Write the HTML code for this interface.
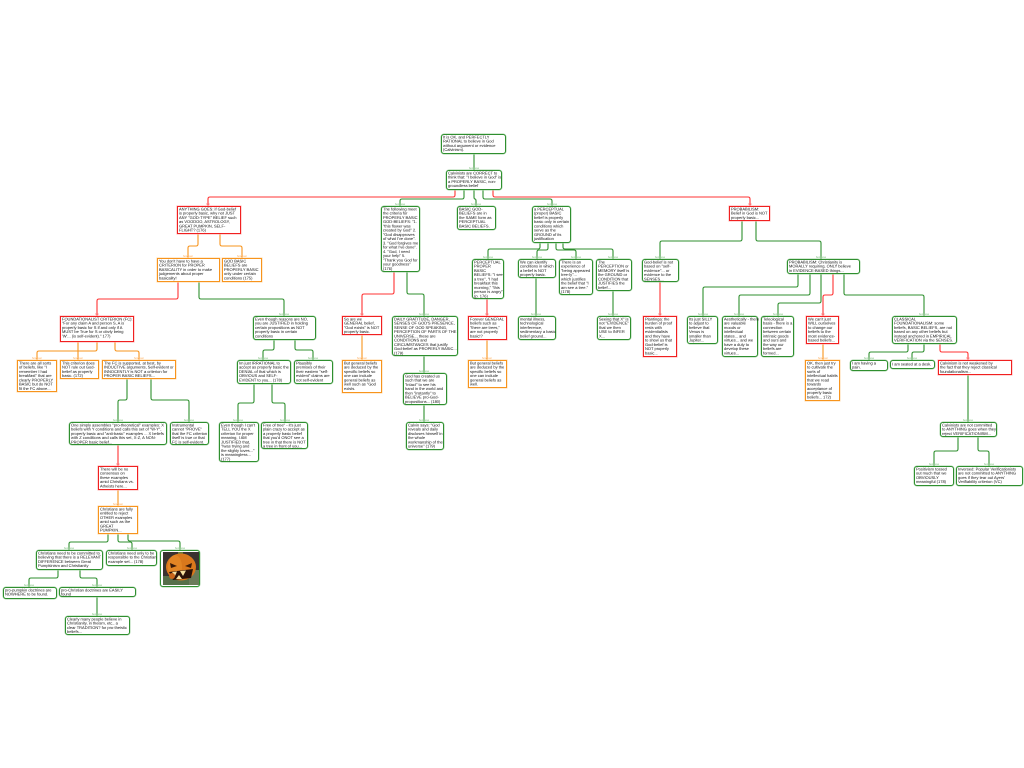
<!DOCTYPE html>
<html><head><meta charset="utf-8"><title>Diagram</title>
<style>
html,body{margin:0;padding:0;background:#fff;width:1024px;height:768px;overflow:hidden}
body{position:relative;font-family:"Liberation Sans",sans-serif}
svg{position:absolute;left:0;top:0}
.n{position:absolute;box-sizing:border-box;background:#fff;white-space:nowrap;padding:0 0 0 .5px}
.n p{margin:0;font-size:16px;line-height:17px;color:#111;transform:scale(.25);transform-origin:0 0;width:400px;height:10px;text-rendering:geometricPrecision}
.g{border:1px solid #2f8f2f;border-radius:3px;box-shadow:0 0 0 .5px #a8d4a8}
.r{border:1px solid #f02020;box-shadow:0 0 0 .5px #ffb0b0}
.o{border:1px solid #f7941d;box-shadow:0 0 0 .5px #ffd9a8}
.lg{fill:#7cbf7c}.lr{fill:#f77}.lo{fill:#fa5}
text{font-family:"Liberation Sans",sans-serif;font-size:2.7px;text-anchor:middle}
</style></head><body>
<svg width="1024" height="768" viewBox="0 0 1024 768">
<defs>
<marker id="mg" markerUnits="userSpaceOnUse" markerWidth="6" markerHeight="3" refX="3" refY="1.5" orient="0"><rect x=".5" y="1" width="5" height="1" fill="#2f8f2f"/></marker>
<marker id="mr" markerUnits="userSpaceOnUse" markerWidth="6" markerHeight="3" refX="3" refY="1.5" orient="0"><rect x=".5" y="1" width="5" height="1" fill="#f33"/></marker>
<marker id="mo" markerUnits="userSpaceOnUse" markerWidth="6" markerHeight="3" refX="3" refY="1.5" orient="0"><rect x=".5" y="1" width="5" height="1" fill="#f7941d"/></marker>
</defs>
<g fill="none" stroke="#2f8f2f" stroke-width="1.1" marker-start="url(#mg)" marker-end="url(#mg)">
<path d="M474 154V170"/>
<path d="M464 190V197Q464 199 462 199H402Q400 199 400 201V206"/>
<path d="M474 190V197Q474 199 475 199Q476 199 476 201V206"/>
<path d="M483 190V197Q483 199 485 199H550Q552 199 552 201V206"/>
<path d="M199 282V297Q199 299 201 299H282Q284 299 284 301V316"/>
<path d="M127 379V398Q127 400 125 400H120Q118 400 118 402V422"/>
<path d="M151 379V398Q151 400 153 400H187Q189 400 189 402V422"/>
<path d="M274 340V348Q274 350 272 350H265Q263 350 263 352V360"/>
<path d="M295 340V348Q295 350 297 350H311Q313 350 313 352V360"/>
<path d="M254 384V401Q254 403 252 403H240Q238 403 238 405V422"/>
<path d="M272 384V401Q272 403 274 403H283Q285 403 285 405V422"/>
<path d="M108 534V540Q108 542 106 542H71Q69 542 69 544V550"/>
<path d="M118 534V540Q118 542 120 542H130Q132 542 132 544V550"/>
<path d="M128 534V539Q128 541 130 541H178Q180 541 180 543V550"/>
<path d="M58 570V576Q58 578 56 578H31Q29 578 29 580V587"/>
<path d="M80 570V576Q80 578 82 578H95Q97 578 97 580V587"/>
<path d="M97 597V616"/>
<path d="M407 272V292Q407 294 409 294H422Q424 294 424 296V316"/>
<path d="M424 356V373"/>
<path d="M424 405V422"/>
<path d="M540 243V247Q540 249 538 249H490Q488 249 488 251V259"/>
<path d="M548 243V248Q548 250 546 250H539Q537 250 537 252V259"/>
<path d="M556 243V248Q556 250 558 250H574Q576 250 576 252V259"/>
<path d="M563 243V247Q563 249 565 249H611Q613 249 613 251V259"/>
<path d="M536 278V316"/>
<path d="M613 291V316"/>
<path d="M742 221V239Q742 241 740 241H662Q660 241 660 243V259"/>
<path d="M756 221V239Q756 241 758 241H819Q821 241 821 243V259"/>
<path d="M798 274V285Q798 287 796 287H705Q703 287 703 289V316"/>
<path d="M810 274V293Q810 295 808 295H741Q739 295 739 297V316"/>
<path d="M821 274V301Q821 303 819 303H780Q778 303 778 305V316"/>
<path d="M844 274V293Q844 295 846 295H922Q924 295 924 297V316"/>
<path d="M908 344V350Q908 352 906 352H871Q869 352 869 354V360"/>
<path d="M924 344V350Q924 352 922 352H914Q912 352 912 354V360"/>
<path d="M968 375V422"/>
<path d="M958 437V449Q958 451 956 451H936Q934 451 934 453V466"/>
<path d="M978 437V449Q978 451 980 451H987Q989 451 989 453V466"/>
</g>
<g fill="none" stroke="#f33" stroke-width="1.1" marker-start="url(#mr)" marker-end="url(#mr)">
<path d="M455 190V195Q455 197 453 197H210Q208 197 208 199V206"/>
<path d="M493 190V195Q493 197 495 197H748Q750 197 750 199V206"/>
<path d="M178 282V297Q178 299 176 299H99Q97 299 97 301V316"/>
<path d="M118 445V466"/>
<path d="M394 272V292Q394 294 392 294H364Q362 294 362 296V316"/>
<path d="M487 299V316"/>
<path d="M660 282V316"/>
<path d="M833 274V293Q833 295 831 295H825Q823 295 823 297V316"/>
<path d="M940 344V350Q940 352 942 352H966Q968 352 968 354V360"/>
</g>
<g fill="none" stroke="#f7941d" stroke-width="1.1" marker-start="url(#mo)" marker-end="url(#mo)">
<path d="M198 234V244Q198 246 196 246H190Q188 246 188 248V258"/>
<path d="M220 234V244Q220 246 222 246H240Q242 246 242 248V258"/>
<path d="M97 342V349Q97 351 95 351H39Q37 351 37 353V360"/>
<path d="M78 342V360"/>
<path d="M115 342V349Q115 351 117 351H137Q139 351 139 353V360"/>
<path d="M118 490V506"/>
<path d="M362 335V360"/>
<path d="M487 340V360"/>
<path d="M823 344V360"/>
</g>
<g>
<text class="lg" x="474" y="169">because</text><text class="lr" x="208" y="205">but</text><text class="lr" x="750" y="205">but</text>
<text class="lg" x="400" y="205">because</text><text class="lg" x="476" y="205">because</text><text class="lg" x="552" y="205">because</text>
<text class="lo" x="188" y="257">however</text><text class="lo" x="242" y="257">however</text><text class="lr" x="97" y="315">but</text><text class="lg" x="284" y="315">because</text>
<text class="lo" x="37" y="359">however</text><text class="lo" x="78" y="359">however</text><text class="lo" x="139" y="359">however</text>
<text class="lg" x="118" y="421">because</text><text class="lg" x="189" y="421">because</text><text class="lg" x="263" y="359">because</text><text class="lg" x="313" y="359">because</text>
<text class="lg" x="238" y="421">because</text><text class="lg" x="285" y="421">because</text><text class="lr" x="118" y="465">but</text><text class="lo" x="118" y="505">however</text>
<text class="lg" x="69" y="549">because</text><text class="lg" x="132" y="549">because</text><text class="lg" x="180" y="549">because</text>
<text class="lg" x="29" y="586">because</text><text class="lg" x="97" y="586">because</text><text class="lg" x="97" y="615">because</text>
<text class="lr" x="362" y="315">but</text><text class="lg" x="424" y="315">because</text><text class="lo" x="362" y="359">however</text>
<text class="lg" x="424" y="372">because</text><text class="lg" x="424" y="421">because</text>
<text class="lg" x="488" y="258">because</text><text class="lg" x="537" y="258">because</text><text class="lg" x="576" y="258">because</text><text class="lg" x="613" y="258">because</text>
<text class="lr" x="487" y="315">but</text><text class="lo" x="487" y="359">however</text><text class="lg" x="536" y="315">because</text><text class="lg" x="613" y="315">because</text>
<text class="lg" x="660" y="258">because</text><text class="lg" x="821" y="258">because</text><text class="lr" x="660" y="315">but</text>
<text class="lg" x="703" y="315">because</text><text class="lg" x="739" y="315">because</text><text class="lg" x="778" y="315">because</text><text class="lr" x="823" y="315">but</text><text class="lg" x="924" y="315">because</text>
<text class="lo" x="823" y="359">however</text><text class="lg" x="869" y="359">because</text><text class="lg" x="912" y="359">because</text><text class="lr" x="968" y="359">but</text>
<text class="lg" x="968" y="421">because</text><text class="lg" x="934" y="465">because</text><text class="lg" x="989" y="465">because</text>
</g>
</svg>

<div class="n g" style="left:441px;top:134px;width:65px;height:20px"><p>It is OK, and PERFECTLY<br>RATIONAL to believe in God<br>without argument or evidence<br>(Calvinism).</p></div>
<div class="n g" style="left:446px;top:170px;width:56px;height:20px"><p>Calvinists are CORRECT to<br>think that: "I believe in God" is<br>a PROPERLY BASIC, non-<br>groundless belief</p></div>
<div class="n r" style="left:177px;top:206px;width:64px;height:28px"><p>ANYTHING GOES: if God-belief<br>is properly basic, why not JUST<br>ANY "GOD-TYPE" BELIEF such<br>as VOODOO, ASTROLOGY,<br>GREAT PUMPKIN, SELF-<br>FLIGHT? (176)</p></div>
<div class="n g" style="left:381px;top:206px;width:39px;height:66px"><p>The following meet<br>the criteria for<br>PROPERLY BASIC<br>GOD-BELIEFS: "1.<br>"this flower was<br>created by God" 2.<br>"God disapproves<br>of what I've done".<br>3. "God forgives me<br>for what I've done".<br>4. "God, I need<br>your help" 5.<br>"Thank you God for<br>your goodness"<br>(176)</p></div>
<div class="n g" style="left:457px;top:206px;width:39px;height:24px"><p>BASIC GOD-<br>BELIEFS are in<br>the SAME form as<br>PERCEPTUAL<br>BASIC BELIEFS.</p></div>
<div class="n g" style="left:532px;top:206px;width:39px;height:37px"><p>a PERCEPTUAL<br>(proper) BASIC<br>belief is properly<br>basic only in certain<br>conditions which<br>serve as the<br>GROUND of its<br>justification</p></div>
<div class="n r" style="left:729px;top:206px;width:41px;height:15px"><p>PROBABILISM:<br>Belief in God is NOT<br>properly basic...</p></div>
<div class="n o" style="left:157px;top:258px;width:63px;height:24px"><p>You don't have to have a<br>CRITERION for PROPER<br>BASICALITY in order to make<br>judgements about proper<br>basicality!</p></div>
<div class="n o" style="left:222px;top:258px;width:40px;height:24px"><p>GOD BASIC<br>BELIEFS are<br>PROPERLY BASIC<br>only under certain<br>conditions (175)</p></div>
<div class="n g" style="left:253px;top:316px;width:63px;height:24px"><p>Even though reasons are NO,<br>you are JUSTIFIED in holding<br>certain propositions as NOT<br>properly basic in certain<br>conditions</p></div>
<div class="n r" style="left:60px;top:316px;width:74px;height:26px"><p>FOUNDATIONALIST CRITERION (FC):<br>"For any claim A and person S, A is<br>properly basic for S if and only if A<br>MUST be True for S or obvly being<br>'W'... (is self-evident)." 177)</p></div>
<div class="n o" style="left:17px;top:360px;width:40px;height:32px"><p>There are all sorts<br>of beliefs, like "I<br>remember I had<br>breakfast" that are<br>clearly PROPERLY<br>BASIC but do NOT<br>fit the FC above...</p></div>
<div class="n o" style="left:60px;top:360px;width:39px;height:19px"><p>This criterion does<br>NOT rule out God-<br>belief as properly<br>basic. (172)</p></div>
<div class="n o" style="left:102px;top:360px;width:74px;height:19px"><p>The FC is supported, at best, by<br>INDUCTIVE arguments, Self-evident or<br>INNOCENTLY is NOT a criterion for<br>PROPER BASIC BELIEFS...</p></div>
<div class="n g" style="left:69px;top:422px;width:98px;height:23px"><p>One simply assembles "pro-theoretical" examples: X<br>beliefs with Y conditions and calls this set of "W-Y",<br>properly basic and "anti-basic" examples ... X beliefs<br>with Z conditions and calls this set, X-Z, A NON-<br>PROPER basic belief...</p></div>
<div class="n g" style="left:170px;top:422px;width:39px;height:23px"><p>Instrumental<br>cannot "PROVE"<br>that the FC criterion<br>itself is true or that<br>FC is self-evident.</p></div>
<div class="n g" style="left:237px;top:360px;width:54px;height:24px"><p>Im just IRRATIONAL to<br>accept as properly basic the<br>DENIAL of that which is<br>OBVIOUS and SELF-<br>EVIDENT to you... (178)</p></div>
<div class="n g" style="left:294px;top:360px;width:39px;height:24px"><p>Plausibly<br>premises of their<br>their eastern "self-<br>evident" claims are<br>not self-evident</p></div>
<div class="n g" style="left:219px;top:422px;width:40px;height:40px"><p>Even though I can't<br>TELL YOU the X<br>criterion for proper<br>meaning, I AM<br>JUSTIFIED that,<br>"Iwas trying and<br>the slighty toves..."<br>is meaningless...<br>(177)</p></div>
<div class="n g" style="left:261px;top:422px;width:47px;height:27px"><p>Free of tree" - it's just<br>plain crazy to accept as<br>a properly basic belief<br>that you'd ONOT see a<br>tree in that there is NOT<br>a tree in front of you...</p></div>
<div class="n r" style="left:98px;top:466px;width:40px;height:24px"><p>There will be no<br>consensus on<br>these examples<br>amid Christians vs.<br>Atheists here...</p></div>
<div class="n o" style="left:98px;top:506px;width:40px;height:28px"><p>Christians are fully<br>entitled to reject<br>OTHER examples<br>amid such as the<br>GREAT<br>PUMPKIN...</p></div>
<div class="n g" style="left:36px;top:550px;width:67px;height:20px"><p>Christians need to be committed to<br>believing that there is a RELEVANT<br>DIFFERENCE between Great<br>Pumpkinism and Christianity</p></div>
<div class="n g" style="left:106px;top:550px;width:51px;height:16px"><p>Christians need only to be<br>responsible to the Christian<br>example set... (178)</p></div>
<div class="n g" style="left:160px;top:550px;width:40px;height:37px;padding:0">
<svg width="36" height="33" viewBox="0 0 36 33" style="left:2px;top:1px">
<rect width="36" height="33" fill="#3a3230"/><rect y="24" width="36" height="9" fill="#56704a"/><rect x="26" y="18" width="10" height="15" fill="#6b7b5a"/>
<rect x="15" y="0" width="5" height="4" fill="#6b7a3a"/>
<ellipse cx="18" cy="15" rx="15" ry="13.5" fill="#d9781c"/><ellipse cx="12" cy="15" rx="7" ry="12" fill="#e58a28" opacity=".7"/>
<path d="M7 11L14 14L8 16ZM29 11L22 14L28 16Z" fill="#3a1a08"/>
<path d="M6 20L30 17L28 26L10 28Z" fill="#2a1208"/>
<path d="M9 20L12 24L14 19.5ZM17 19L20 24L23 18.5ZM13 27L16 23L19 27Z" fill="#f6e0a0"/>
<circle cx="9" cy="24" r="3" fill="#c9661a"/>
</svg></div>
<div class="n g" style="left:3px;top:587px;width:54px;height:12px"><p>pro-pumpkin doctrines are<br>NOWHERE to be found.</p></div>
<div class="n g" style="left:59px;top:587px;width:77px;height:10px"><p>pro-Christian doctrines are EASILY<br>found</p></div>
<div class="n g" style="left:65px;top:616px;width:65px;height:19px"><p>Clearly many people believe in<br>Christianity, in theism, etc., a<br>clear TRADITION? for pro-theistic<br>beliefs...</p></div>
<div class="n r" style="left:342px;top:316px;width:40px;height:19px"><p>So are we<br>GENERAL belief,<br>"God exists" is NOT<br>properly basic.</p></div>
<div class="n o" style="left:342px;top:360px;width:40px;height:33px"><p>But general beliefs<br>are deduced by the<br>specific beliefs so<br>one can include<br>general beliefs as<br>well such as "God<br>exists.</p></div>
<div class="n g" style="left:392px;top:316px;width:66px;height:40px"><p>DAILY GRATITUDE, DANGER,<br>SENSES OF GOD'S PRESENCE,<br>SENSE OF GOD SPEAKING,<br>PERCEPTION OF PARTS OF THE<br>UNIVERSE... these are<br>CONDITIONS and<br>CIRCUMSTANCES that justify<br>God-belief as PROPERLY BASIC...<br>(179)</p></div>
<div class="n g" style="left:403px;top:373px;width:44px;height:32px"><p>God has created us<br>such that we are<br>"intact" to see his<br>hand in the world and<br>then "instantly" to<br>BELIEVE pro-God-<br>propositions... (180)</p></div>
<div class="n g" style="left:406px;top:422px;width:38px;height:28px"><p>Calvin says: "God<br>reveals and daily<br>discloses himself in<br>the whole<br>workmanship of the<br>universe" (179)</p></div>
<div class="n g" style="left:472px;top:259px;width:32px;height:40px"><p>PERCEPTUAL<br>PROPER<br>BASIC<br>BELIEFS: "I see<br>a tree", "I had<br>breakfast this<br>morning," "this<br>person is angry"<br>(p. 176)</p></div>
<div class="n g" style="left:518px;top:259px;width:38px;height:19px"><p>We can identify<br>conditions in which<br>a belief is NOT<br>properly basic.</p></div>
<div class="n g" style="left:559px;top:259px;width:34px;height:36px"><p>There is an<br>experience of<br>"being appeared<br>tree-ly"...<br>which justifies<br>the belief that "I<br>am see a tree."<br>(178)</p></div>
<div class="n g" style="left:596px;top:259px;width:36px;height:32px"><p>The<br>PERCEPTION or<br>MEMORY itself is<br>the GROUND or<br>CONDITION that<br>JUSTIFIES the<br>belief...</p></div>
<div class="n r" style="left:468px;top:316px;width:39px;height:24px"><p>Forever GENERAL<br>beliefs such as<br>"there are trees,"<br>are not properly<br>basic!?</p></div>
<div class="n o" style="left:468px;top:360px;width:39px;height:28px"><p>But general beliefs<br>are deduced by the<br>specific beliefs so<br>one can include<br>general beliefs as<br>well.</p></div>
<div class="n g" style="left:518px;top:316px;width:38px;height:24px"><p>mental illness,<br>technological<br>interference,<br>sedimentary a basic<br>belief ground...</p></div>
<div class="n g" style="left:597px;top:316px;width:34px;height:24px"><p>Seeing that X" is<br>not "EVIDENCE"<br>that we then<br>USE to INFER<br>X...</p></div>
<div class="n g" style="left:642px;top:259px;width:37px;height:23px"><p>God-belief is not<br>based on "self-<br>evidence"... or<br>evidence to the<br>SENSES...</p></div>
<div class="n g" style="left:787px;top:259px;width:73px;height:15px"><p>PROBABILISM: Christianity is<br>MORALLY requiring, ONLY believe<br>in EVIDENCE-BASED things...</p></div>
<div class="n r" style="left:643px;top:316px;width:34px;height:41px"><p>Plantinga: the<br>burden of proof<br>rests with<br>evidentialists<br>and they have<br>to show us that<br>God-belief is<br>NOT properly<br>basic...</p></div>
<div class="n g" style="left:687px;top:316px;width:31px;height:28px"><p>Its just SILLY<br>to adjust to<br>believe that<br>Venus is<br>smaller than<br>Jupiter...</p></div>
<div class="n g" style="left:722px;top:316px;width:36px;height:41px"><p>Aesthetically - there<br>are valuable<br>moods or<br>intellectual<br>states... and<br>virtues... and we<br>have a duty to<br>develop these<br>virtues...</p></div>
<div class="n g" style="left:761px;top:316px;width:33px;height:41px"><p>Teleological<br>basis - there is a<br>connection<br>between certain<br>intrinsic goods<br>and ours and<br>the way our<br>beliefs are<br>formed...</p></div>
<div class="n r" style="left:806px;top:316px;width:33px;height:28px"><p>We can't just<br>WILL ourselves<br>to change our<br>beliefs to the<br>most evidence-<br>based beliefs...</p></div>
<div class="n o" style="left:805px;top:360px;width:35px;height:41px"><p>OK, then just try<br>to cultivate the<br>sorts of<br>intellectual habits<br>that we read<br>towards<br>acceptance of<br>properly basic<br>beliefs... 172)</p></div>
<div class="n g" style="left:892px;top:316px;width:65px;height:28px"><p>CLASSICAL<br>FOUNDATIONALISM: some<br>beliefs, BASIC BELIEFS, are not<br>based on any other beliefs but<br>instead anchored in EMPIRICAL<br>VERIFICATION via the SENSES.</p></div>
<div class="n g" style="left:850px;top:360px;width:38px;height:11px"><p>I am having a<br>pain.</p></div>
<div class="n g" style="left:890px;top:360px;width:45px;height:9px;padding-top:1px"><p>I am seated at a desk.</p></div>
<div class="n r" style="left:938px;top:360px;width:74px;height:15px"><p>Calvinism is not weakened by<br>the fact that they reject classical<br>foundationalism...</p></div>
<div class="n g" style="left:940px;top:422px;width:57px;height:15px"><p>Calvinists are not committed<br>to ANYTHING goes when they<br>reject VERIFICATIONISM...</p></div>
<div class="n g" style="left:914px;top:466px;width:40px;height:20px"><p>Positivism tossed<br>out much that we<br>OBVIOUSLY<br>meaningful (178)</p></div>
<div class="n g" style="left:956px;top:466px;width:67px;height:20px"><p>Inversed: Popular Verificationists<br>are not committed to ANYTHING<br>goes if they tear out Ayers'<br>Verifiability criterion (VC)</p></div>
</body></html>
